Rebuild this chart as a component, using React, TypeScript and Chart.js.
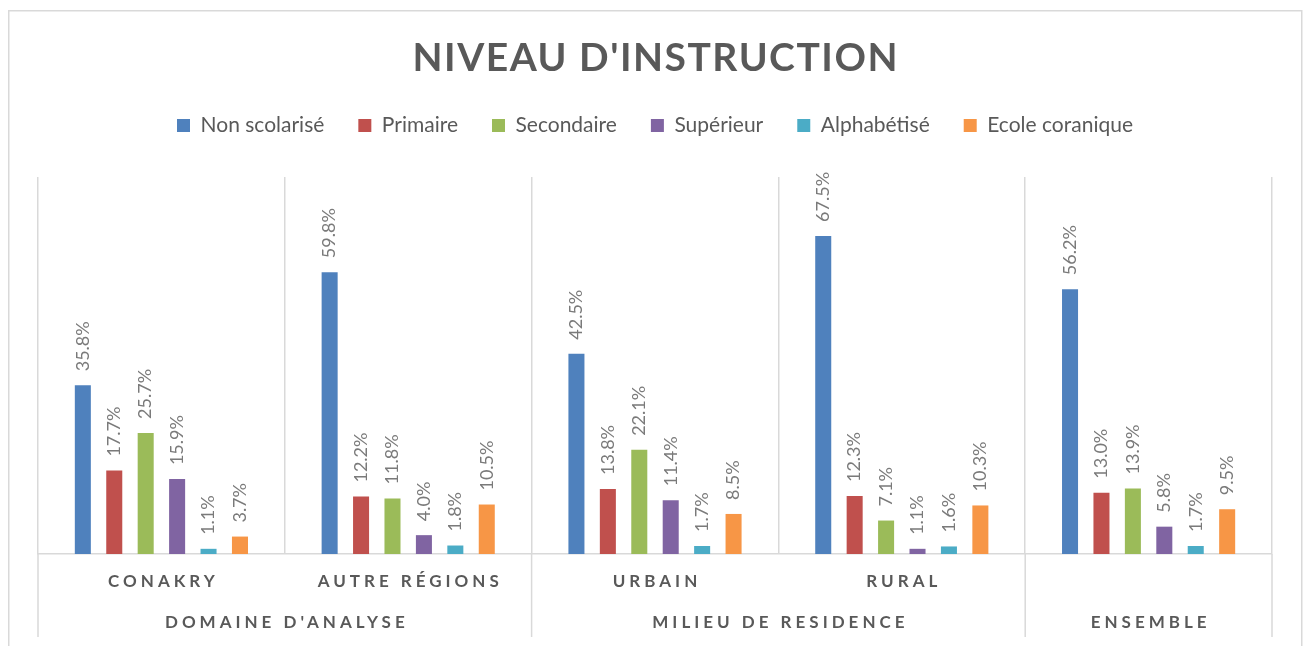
import React, { useEffect, useRef } from "react";
import { Chart, registerables } from "chart.js";

Chart.register(...registerables);

const categories = ["CONAKRY", "AUTRE RÉGIONS", "URBAIN", "RURAL", "ENSEMBLE"];
const subLabels = ["CONAKRY", "AUTRE RÉGIONS", "URBAIN", "RURAL", ""];
const groupLabels = ["DOMAINE D'ANALYSE", "MILIEU DE RESIDENCE", "ENSEMBLE"];
const groupSpans = [2, 2, 1];

const seriesNames = ["Non scolarisé", "Primaire", "Secondaire", "Supérieur", "Alphabétisé", "Ecole coranique"];
const nonScolarise = [35.8, 59.8, 42.5, 67.5, 56.2];
const primaire = [17.7, 12.2, 13.8, 12.3, 13.0];
const secondaire = [25.7, 11.8, 22.1, 7.1, 13.9];
const superieur = [15.9, 4.0, 11.4, 1.1, 5.8];
const alphabetise = [1.1, 1.8, 1.7, 1.6, 1.7];
const ecoleCoranique = [3.7, 10.5, 8.5, 10.3, 9.5];
const seriesColors = ["#4F81BD", "#C0504D", "#9BBB59", "#8064A2", "#4BACC6", "#F79646"];

const titleText = "NIVEAU D'INSTRUCTION";
const FONT = "Lato, 'Open Sans', sans-serif";
const GRID = "#D9D9D9";
const TEXT = "#595959";

const decorPlugin = {
  id: "decor",
  beforeDraw(chart: any) {
    const ctx = chart.ctx;
    ctx.save();
    ctx.fillStyle = "#ffffff";
    ctx.fillRect(0, 0, chart.width, chart.height);
    ctx.strokeStyle = GRID;
    ctx.lineWidth = 1.5;
    ctx.strokeRect(8.75, 10.75, 1293, 700);
    ctx.restore();
  },
  afterDraw(chart: any) {
    const ctx = chart.ctx;
    const xs = chart.scales.x;
    const area = chart.chartArea;
    ctx.save();
    // title
    ctx.fillStyle = TEXT;
    ctx.font = `bold 39px ${FONT}`;
    (ctx as any).letterSpacing = "1.5px";
    ctx.textAlign = "center";
    ctx.textBaseline = "alphabetic";
    ctx.fillText(titleText, (area.left + area.right) / 2 + 0.75, 71);

    // category labels
    const n = categories.length;
    const half = (xs.getPixelForValue(1) - xs.getPixelForValue(0)) / 2;
    ctx.font = `bold 17px ${FONT}`;
    (ctx as any).letterSpacing = "4px";
    ctx.textBaseline = "middle";
    for (let i = 0; i < n; i++) {
      if (subLabels[i]) ctx.fillText(subLabels[i], xs.getPixelForValue(i) + 2, 582);
    }
    // group lines and labels
    ctx.strokeStyle = GRID;
    ctx.lineWidth = 1.5;
    const lineBottom = 637;
    let idx = 0;
    const edges: number[] = [xs.getPixelForValue(0) - half];
    groupSpans.forEach((span, g) => {
      const left = xs.getPixelForValue(idx) - half;
      const right = xs.getPixelForValue(idx + span - 1) + half;
      edges.push(right);
      ctx.fillText(groupLabels[g], (left + right) / 2 + 2, 623);
      idx += span;
    });
    edges.forEach((e) => {
      ctx.beginPath();
      ctx.moveTo(e, area.bottom);
      ctx.lineTo(e, lineBottom);
      ctx.stroke();
    });

    // data labels
    ctx.font = `18px ${FONT}`;
    (ctx as any).letterSpacing = "0px";
    ctx.fillStyle = "#7A7A7A";
    ctx.textAlign = "left";
    ctx.textBaseline = "middle";
    chart.data.datasets.forEach((ds: any, di: number) => {
      const meta = chart.getDatasetMeta(di);
      meta.data.forEach((bar: any, j: number) => {
        const v = ds.data[j];
        ctx.save();
        ctx.translate(bar.x, bar.y - 14);
        ctx.rotate(-Math.PI / 2);
        ctx.fillText(v.toFixed(1) + "%", 0, 0);
        ctx.restore();
      });
    });
    ctx.restore();
  },
};

export default function App() {
  const ref = useRef<HTMLCanvasElement | null>(null);
  useEffect(() => {
    document.body.style.margin = "0";
    const seriesData = [nonScolarise, primaire, secondaire, superieur, alphabetise, ecoleCoranique];
    const chart = new Chart(ref.current as HTMLCanvasElement, {
      type: "bar",
      data: {
        labels: categories,
        datasets: seriesNames.map((name, i) => ({
          label: name,
          data: seriesData[i],
          backgroundColor: seriesColors[i],
          borderWidth: 0,
          categoryPercentage: 0.764,
          barPercentage: 0.51,
        })),
      },
      options: {
        responsive: false,
        animation: false,
        layout: { padding: { top: 81, left: 38, right: 34, bottom: 92 } },
        plugins: {
          title: { display: false },
          subtitle: {
            display: true,
            text: "",
            position: "top",
            weight: 500,
            font: { size: 1, lineHeight: 1 },
            padding: { top: 30, bottom: 0 },
            color: "rgba(0,0,0,0)",
          } as any,
          legend: {
            display: true,
            position: "top",
            labels: {
              boxWidth: 13,
              boxHeight: 13,
              padding: 34,
              color: TEXT,
              font: { family: FONT, size: 21 },
            },
          },
          tooltip: { enabled: false },
        },
        scales: {
          x: {
            grid: { display: true, color: GRID, lineWidth: 1.5, offset: true, drawTicks: false },
            border: { display: true, color: GRID, width: 1.5 },
            ticks: { display: false },
          },
          y: { display: false, min: 0, max: 80 },
        },
      },
      plugins: [decorPlugin],
    });
    return () => chart.destroy();
  }, []);
  return (
    <div style={{ width: 1306, height: 646 }}>
      <canvas ref={ref} width={1306} height={646} />
    </div>
  );
}
